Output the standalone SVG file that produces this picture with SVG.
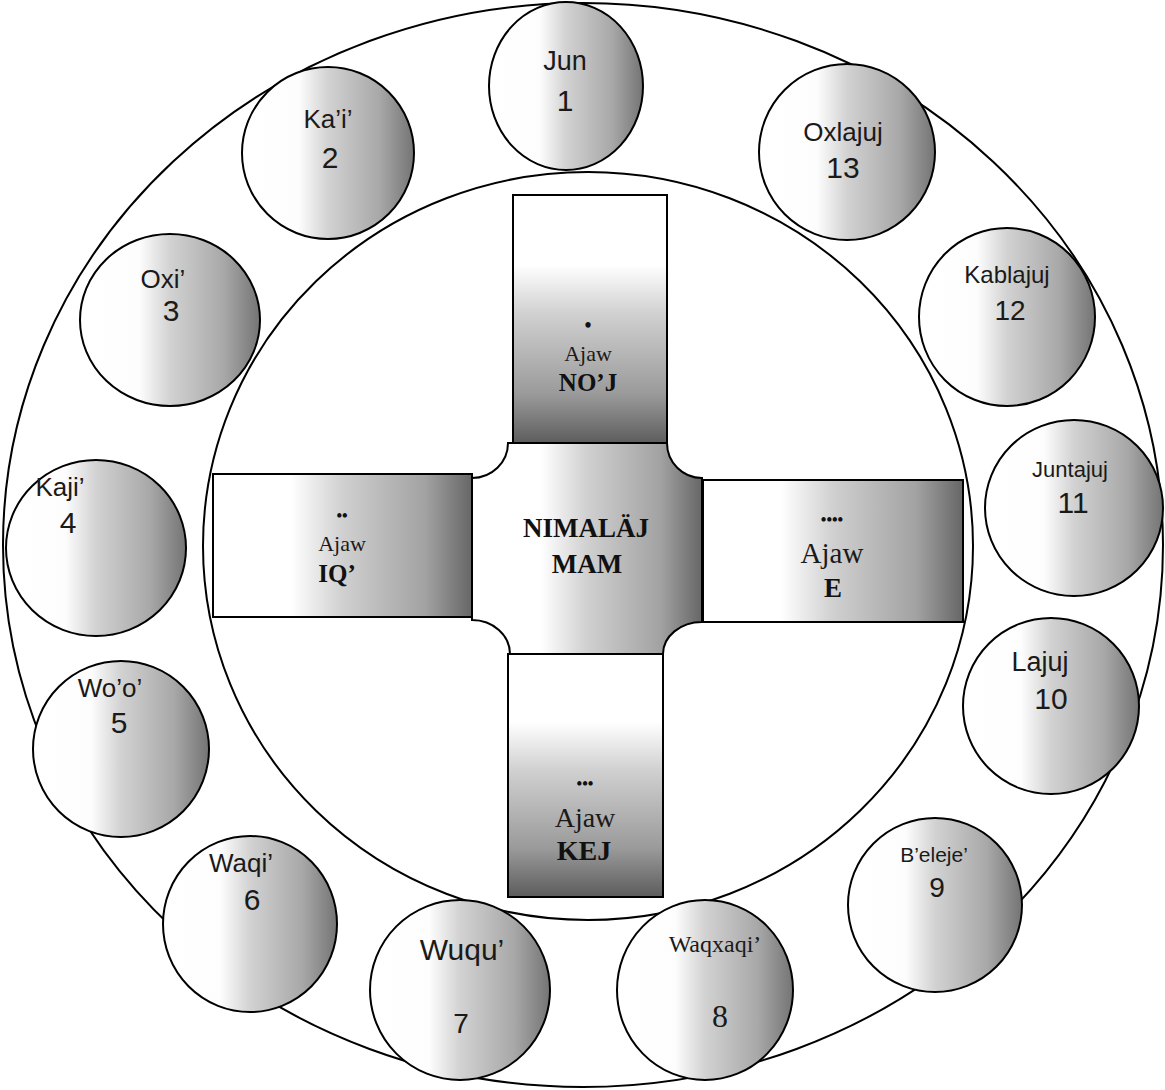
<svg xmlns="http://www.w3.org/2000/svg" width="1165" height="1090" viewBox="0 0 1165 1090">
<defs>
<linearGradient id="gCirc" x1="0" y1="0" x2="1" y2="0">
<stop offset="0" stop-color="#fff"/>
<stop offset="0.33" stop-color="#fdfdfd"/>
<stop offset="0.5" stop-color="#d2d2d2"/>
<stop offset="0.8" stop-color="#a8a8a8"/>
<stop offset="1" stop-color="#747474"/>
</linearGradient>
<linearGradient id="gH" x1="0" y1="0" x2="1" y2="0">
<stop offset="0" stop-color="#fff"/>
<stop offset="0.3" stop-color="#fff"/>
<stop offset="0.5" stop-color="#d0d0d0"/>
<stop offset="0.82" stop-color="#a2a2a2"/>
<stop offset="1" stop-color="#666"/>
</linearGradient>
<linearGradient id="gV" x1="0" y1="0" x2="0" y2="1">
<stop offset="0" stop-color="#fff"/>
<stop offset="0.28" stop-color="#fff"/>
<stop offset="0.48" stop-color="#d0d0d0"/>
<stop offset="0.8" stop-color="#9a9a9a"/>
<stop offset="1" stop-color="#5c5c5c"/>
</linearGradient>
</defs>
<style>
.ring{fill:none;stroke:#000;stroke-width:2}
.day{fill:url(#gCirc);stroke:#000;stroke-width:2}
.arm{stroke:#000;stroke-width:2}
.s{font-family:"Liberation Sans",Arial,sans-serif;fill:#1a1a1a;text-anchor:middle}
.r{font-family:"Liberation Serif","Times New Roman",serif;fill:#1a1a1a;text-anchor:middle}
.b{font-family:"Liberation Serif","Times New Roman",serif;font-weight:bold;fill:#111;text-anchor:middle}
</style>
<g id="rings">
<ellipse class="ring" cx="583" cy="545" rx="580" ry="542"/>
<ellipse class="ring" cx="588" cy="546" rx="385" ry="374"/>
</g>
<g id="day1"><ellipse class="day" cx="566" cy="86" rx="77" ry="84"/><text class="s" x="565" y="70" font-size="27">Jun</text><text class="s" x="565" y="111" font-size="30">1</text></g>
<g id="day2"><ellipse class="day" cx="328" cy="153" rx="86" ry="86"/><text class="s" x="328" y="128" font-size="26">Ka’i’</text><text class="s" x="330" y="168" font-size="30">2</text></g>
<g id="day3"><ellipse class="day" cx="170" cy="320" rx="90" ry="86"/><text class="s" x="163" y="288" font-size="26">Oxi’</text><text class="s" x="171" y="321" font-size="30">3</text></g>
<g id="day4"><ellipse class="day" cx="96" cy="548" rx="90" ry="88"/><text class="s" x="60" y="496" font-size="26">Kaji’</text><text class="s" x="68" y="533" font-size="30">4</text></g>
<g id="day5"><ellipse class="day" cx="121" cy="749" rx="88" ry="88"/><text class="s" x="110" y="697" font-size="26">Wo’o’</text><text class="s" x="119" y="733" font-size="30">5</text></g>
<g id="day6"><ellipse class="day" cx="250" cy="924" rx="87" ry="88"/><text class="s" x="241" y="872" font-size="26">Waqi’</text><text class="s" x="252" y="910" font-size="30">6</text></g>
<g id="day7"><ellipse class="day" cx="460" cy="990" rx="90" ry="90"/><text class="s" x="462" y="960" font-size="30">Wuqu’</text><text class="s" x="461" y="1033" font-size="28">7</text></g>
<g id="day8"><ellipse class="day" cx="705" cy="990" rx="88" ry="90"/><text class="r" x="715" y="952" font-size="24">Waqxaqi’</text><text class="r" x="720" y="1027" font-size="32">8</text></g>
<g id="day9"><ellipse class="day" cx="935" cy="905" rx="87" ry="87"/><text class="s" x="934" y="862" font-size="21">B’eleje’</text><text class="s" x="937" y="897" font-size="28">9</text></g>
<g id="day10"><ellipse class="day" cx="1051" cy="706" rx="88" ry="88"/><text class="s" x="1040" y="671" font-size="27">Lajuj</text><text class="s" x="1051" y="709" font-size="30">10</text></g>
<g id="day11"><ellipse class="day" cx="1074" cy="508" rx="89" ry="88"/><text class="s" x="1070" y="477" font-size="22">Juntajuj</text><text class="s" x="1073" y="513" font-size="30">11</text></g>
<g id="day12"><ellipse class="day" cx="1007" cy="317" rx="88" ry="89"/><text class="s" x="1007" y="283" font-size="24">Kablajuj</text><text class="s" x="1010" y="320" font-size="28">12</text></g>
<g id="day13"><ellipse class="day" cx="847" cy="152" rx="88" ry="88"/><text class="s" x="843" y="141" font-size="26">Oxlajuj</text><text class="s" x="843" y="178" font-size="30">13</text></g>
<g id="noj"><rect class="arm" x="513" y="195" width="154" height="249" fill="url(#gV)"/><text class="b" x="588" y="332" font-size="20">•</text><text class="r" x="588" y="361" font-size="22">Ajaw</text><text class="b" x="588" y="391" font-size="25">NO’J</text></g>
<g id="iq"><rect class="arm" x="213" y="474" width="259" height="143" fill="url(#gH)"/><text class="b" x="342" y="521" font-size="16">••</text><text class="r" x="342" y="551" font-size="22">Ajaw</text><text class="b" x="337" y="582" font-size="25">IQ’</text></g>
<g id="e"><rect class="arm" x="703" y="480" width="260" height="142" fill="url(#gH)"/><text class="b" x="832" y="525" font-size="16">••••</text><text class="r" x="832" y="563" font-size="29">Ajaw</text><text class="b" x="833" y="597" font-size="27">E</text></g>
<g id="kej"><rect class="arm" x="508" y="654" width="155" height="243" fill="url(#gV)"/><text class="b" x="585" y="789" font-size="16">•••</text><text class="r" x="585" y="827" font-size="28">Ajaw</text><text class="b" x="584" y="860" font-size="28">KEJ</text></g>
<g id="center"><path class="arm" fill="url(#gH)" d="M508,443 L667,443 A35,35 0 0 0 702,478 L702,622 A39,32 0 0 0 663,654 L510,654 A38,34 0 0 0 472,620 L472,478 A36,35 0 0 0 508,443 Z"/><text class="b" x="586" y="537" font-size="27">NIMALÄJ</text><text class="b" x="587" y="573" font-size="27">MAM</text></g>
</svg>
